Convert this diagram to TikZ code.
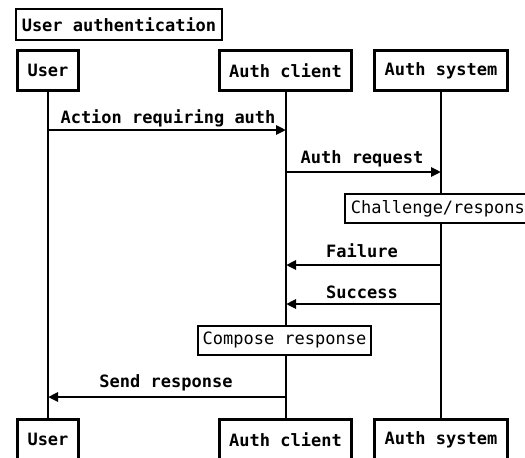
\documentclass[tikz,border=0pt]{standalone}
\usepackage{fontspec}
\setmonofont{DejaVu Sans Mono}
\usetikzlibrary{arrows.meta}
\begin{document}
\begin{tikzpicture}[x=1pt,y=-1pt,
  every node/.style={font=\ttfamily\fontsize{17}{20}\selectfont},
  actor/.style={draw,line width=3pt,fill=white,inner sep=0pt,minimum height=40pt,font=\ttfamily\bfseries\fontsize{17}{20}\selectfont},
  titlebox/.style={draw,line width=2pt,fill=white,inner sep=0pt,minimum height=31pt,minimum width=206pt,font=\ttfamily\bfseries\fontsize{17}{20}\selectfont},
  notebox/.style={draw,line width=2pt,fill=white,inner sep=0pt,minimum height=29pt},
  life/.style={line width=2pt},
  msg/.style={line width=2.5pt,-{Triangle[length=10pt,width=9pt]}},
  msglabel/.style={font=\ttfamily\bfseries\fontsize{17}{20}\selectfont,inner sep=0pt}]
\clip (0,0) rectangle (525,458);
\fill[white] (0,0) rectangle (525,458);
% title
\node[titlebox] (title) at (119,24.5) {User authentication};
% top actors
\node[actor,minimum width=61pt] (userT) at (48,70.5) {User};
\node[actor,minimum width=132pt] (clientT) at (285.5,70.5) {Auth client};
\node[actor,minimum width=133pt] (systemT) at (441,70.5) {Auth system};
% bottom actors
\node[actor,minimum width=61pt] (userB) at (48,439.5) {User};
\node[actor,minimum width=132pt] (clientB) at (285.5,439.5) {Auth client};
\node[actor,minimum width=133pt] (systemB) at (441,439.5) {Auth system};
% lifelines
\begin{scope}[on background layer/.style={}]
\draw[life] (userT) -- (userB);
\draw[life] (clientT) -- (clientB);
\draw[life] (systemT) -- (systemB);
\end{scope}
% notes
\node[notebox,anchor=west,minimum width=196pt] (challenge) at (344,208.5) {Challenge/response};
\node[notebox,minimum width=173pt] (compose) at (284.5,340) {Compose response};
% message end points
\coordinate (m1a) at (48,130);   \coordinate (m1b) at (286,130);
\coordinate (m2a) at (286,172);  \coordinate (m2b) at (441,172);
\coordinate (m3a) at (441,265);  \coordinate (m3b) at (286,265);
\coordinate (m4a) at (441,304);  \coordinate (m4b) at (286,304);
\coordinate (m5a) at (286,397);  \coordinate (m5b) at (48,397);
% messages
\draw[msg] (m1a) -- (m1b);
\node[msglabel] (l1) at (168,118) {Action requiring auth};
\draw[msg] (m2a) -- (m2b);
\node[msglabel] (l2) at (362,159) {Auth request};
\draw[msg] (m3a) -- (m3b);
\node[msglabel] (l3) at (362,251) {Failure};
\draw[msg] (m4a) -- (m4b);
\node[msglabel] (l4) at (362,292) {Success};
\draw[msg] (m5a) -- (m5b);
\node[msglabel] (l5) at (166,383) {Send response};
\end{tikzpicture}
\end{document}
